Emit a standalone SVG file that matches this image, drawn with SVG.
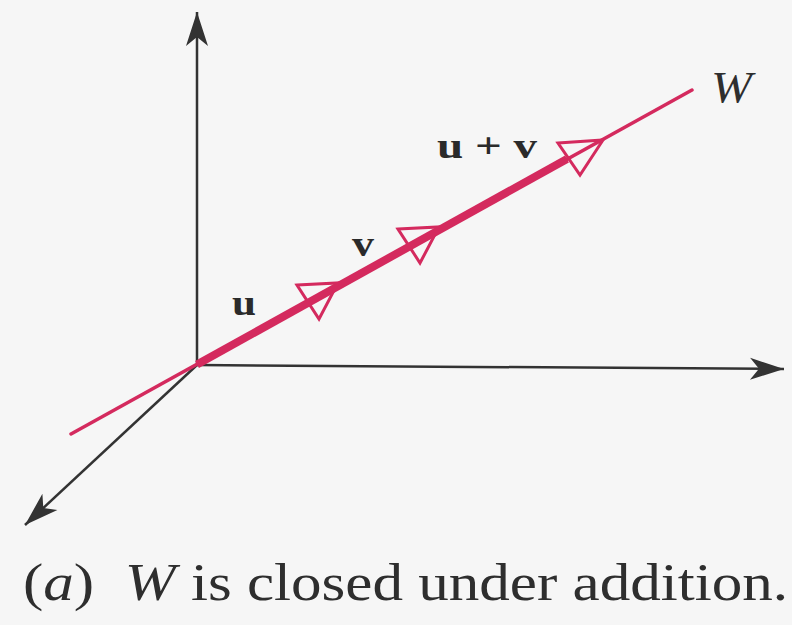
<svg xmlns="http://www.w3.org/2000/svg" width="792" height="625" viewBox="0 0 792 625">
  <style>
    .axis { stroke: #333333; stroke-width: 2.5; fill: none; }
    .w { stroke: #d42a5e; stroke-width: 3.5; fill: none; stroke-linecap: round; }
    .thick { stroke: #d42a5e; stroke-width: 8; fill: none; }
    .tri { stroke: #d42a5e; stroke-width: 3; fill: none; stroke-linejoin: miter; }
    .lbl { font-family: "Liberation Serif", "Times New Roman", serif; font-weight: bold; font-size: 36px; fill: #2a2a2a; }
    .cap { font-family: "Liberation Serif", "Times New Roman", serif; font-size: 52px; fill: #2e2e2e; }
  </style>
  <defs>
    <marker id="arrow" markerUnits="userSpaceOnUse" markerWidth="36" markerHeight="24" refX="34" refY="11" orient="auto" overflow="visible">
      <path d="M34,11 L0,0 L9,11 L0,22 Z" fill="#333333"/>
    </marker>
  </defs>
  <rect width="792" height="625" fill="#f6f6f6"/>

  <g id="connectors">
    <line class="axis" x1="197" y1="365" x2="197" y2="12" marker-end="url(#arrow)"/>
    <line class="axis" x1="197" y1="365" x2="784" y2="369" marker-end="url(#arrow)"/>
    <line class="axis" x1="197" y1="365" x2="25" y2="525" marker-end="url(#arrow)"/>
  </g>

  <g id="line-W">
    <line class="w" x1="71" y1="434" x2="692" y2="90"/>
    <line class="thick" x1="197" y1="364.5" x2="567" y2="159"/>
  </g>

  <g id="vector-u">
    <polygon class="tri" points="297,285 338,283 319,319"/>
    <text class="lbl" x="232" y="315" textLength="24" lengthAdjust="spacingAndGlyphs">u</text>
  </g>

  <g id="vector-v">
    <polygon class="tri" points="398,229 439,227 420,263"/>
    <text class="lbl" x="352" y="256" textLength="22" lengthAdjust="spacingAndGlyphs">v</text>
  </g>

  <g id="vector-uv">
    <polygon class="tri" points="558,143 603,140 580,175"/>
    <text class="lbl" x="437" y="158" textLength="100" lengthAdjust="spacingAndGlyphs">u + v</text>
  </g>

  <g id="label-W">
    <text x="711" y="102" font-family="'Liberation Serif', 'Times New Roman', serif" font-style="italic" font-size="44" fill="#2e2e2e" textLength="41" lengthAdjust="spacingAndGlyphs">W</text>
  </g>

  <g id="caption">
    <text class="cap" x="23" y="600" xml:space="preserve" textLength="765" lengthAdjust="spacingAndGlyphs">(<tspan font-style="italic">a</tspan>)  <tspan font-style="italic">W</tspan> is closed under addition.</text>
  </g>
</svg>
